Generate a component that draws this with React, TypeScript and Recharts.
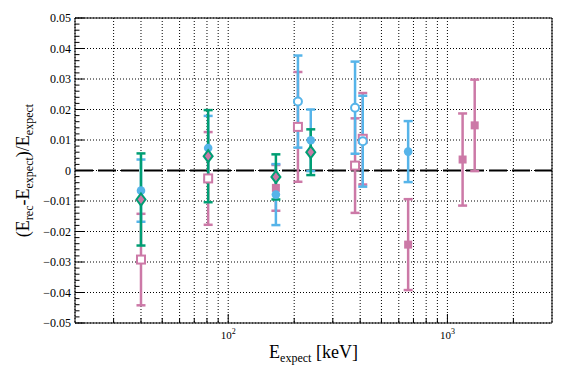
import React from 'react';
import { ScatterChart, Scatter, XAxis, YAxis, CartesianGrid, ErrorBar, ReferenceLine } from 'recharts';

const FONT = '"Liberation Serif", "DejaVu Serif", serif';
const BLUE = '#56B4E9';
const PINK = '#CC79A7';
const GREEN = '#009E73';

// Axis ticks
const xTicks = [30, 40, 50, 60, 70, 80, 90, 100, 200, 300, 400, 500, 600, 700, 800, 900, 1000, 2000];
const xMajorTicks = [100, 1000];
const xMajorExp = ['2', '3'];
const yMajorTicks = [-0.05, -0.04, -0.03, -0.02, -0.01, 0, 0.01, 0.02, 0.03, 0.04, 0.05];
const yMajorLabels = ['\u22120.05', '\u22120.04', '\u22120.03', '\u22120.02', '\u22120.01', '0', '0.01', '0.02', '0.03', '0.04', '0.05'];
const yAllTicks: number[] = [];
yMajorTicks.forEach((t, i) => {
  if (i < yMajorTicks.length - 1) {
    const step = (yMajorTicks[i + 1] - t) / 5;
    for (let k = 0; k < 5; k++) yAllTicks.push(+(t + k * step).toFixed(4));
  } else yAllTicks.push(t);
});

// Series: blue filled circles
const blueFilledE = [40, 81, 165, 238, 662];
const blueFilledV = [-0.0066, 0.0074, -0.0079, 0.0099, 0.0062];
const blueFilledErr = [0.0102, 0.0105, 0.0100, 0.0101, 0.0100];
// blue open circles
const blueOpenE = [208, 379, 411];
const blueOpenV = [0.0226, 0.0206, 0.0096];
const blueOpenErr = [0.0151, 0.0151, 0.0149];
// pink open squares
const pinkOpenE = [40, 81, 208, 379, 411];
const pinkOpenV = [-0.0292, -0.0026, 0.0143, 0.0016, 0.0104];
const pinkOpenErr = [0.0150, 0.0152, 0.0180, 0.0155, 0.0150];
// pink filled squares
const pinkFilledE = [165, 662, 1173, 1332];
const pinkFilledV = [-0.0057, -0.0243, 0.0036, 0.0148];
const pinkFilledErr = [0.0075, 0.0149, 0.0151, 0.0150];
// green diamonds
const greenE = [40, 81, 165, 238];
const greenV = [-0.0095, 0.0047, -0.0021, 0.0060];
const greenErr = [0.0151, 0.0151, 0.0074, 0.0075];

const mk = (e: number[], v: number[], err: number[]) => e.map((x, i) => ({ x, y: v[i], err: err[i] }));

const blueFilled = mk(blueFilledE, blueFilledV, blueFilledErr);
const blueOpen = mk(blueOpenE, blueOpenV, blueOpenErr);
const pinkOpen = mk(pinkOpenE, pinkOpenV, pinkOpenErr);
const pinkFilled = mk(pinkFilledE, pinkFilledV, pinkFilledErr);
const green = mk(greenE, greenV, greenErr);

const openCircle = (c: string) => (p: any) => <circle cx={p.cx} cy={p.cy} r={4} fill="#fff" stroke={c} strokeWidth={2} />;
const filledCircle = (c: string) => (p: any) => <circle cx={p.cx} cy={p.cy} r={4.3} fill={c} />;
const openSquare = (c: string) => (p: any) => <rect x={p.cx - 4} y={p.cy - 4} width={8} height={8} fill="#fff" stroke={c} strokeWidth={2} />;
const filledSquare = (c: string) => (p: any) => <rect x={p.cx - 4} y={p.cy - 4} width={8} height={8} fill={c} />;
const diamondShape = (p: any) => (
  <polygon
    points={`${p.cx},${p.cy - 6} ${p.cx + 4.5},${p.cy} ${p.cx},${p.cy + 6} ${p.cx - 4.5},${p.cy}`}
    fill={PINK}
    stroke={GREEN}
    strokeWidth={2}
  />
);

const XTick = (props: any) => {
  const { x, y, payload } = props;
  const v = payload.value;
  const mi = xMajorTicks.indexOf(v);
  const len = mi >= 0 ? 9 : 5;
  return (
    <g>
      <line x1={x} y1={y} x2={x} y2={y - len} stroke="#000" strokeWidth={1} />
      {mi >= 0 && (
        <text x={x} y={y + 16} textAnchor="middle" fontFamily={FONT} fontSize={11} fill="#000">
          10<tspan dy={-5} fontSize={8}>{xMajorExp[mi]}</tspan>
        </text>
      )}
    </g>
  );
};

const YTick = (props: any) => {
  const { x, y, payload } = props;
  const v = payload.value;
  const mi = yMajorTicks.findIndex((t) => Math.abs(t - v) < 1e-7);
  const len = mi >= 0 ? 9 : 4.5;
  return (
    <g>
      <line x1={x} y1={y} x2={x + len} y2={y} stroke="#000" strokeWidth={1} />
      {mi >= 0 && (
        <text x={x - 4} y={y + 4} textAnchor="end" fontFamily={FONT} fontSize={12} fill="#000">
          {yMajorLabels[mi]}
        </text>
      )}
    </g>
  );
};

const XTitle = (props: any) => {
  const vb = props.viewBox || { x: 75, y: 323, width: 477, height: 48 };
  const cx = vb.x + vb.width / 2;
  return (
    <text x={cx} y={vb.y + 35} textAnchor="middle" fontFamily={FONT} fontSize={18} fill="#000">
      E<tspan dy={4} fontSize={12}>expect</tspan><tspan dy={-4}> [keV]</tspan>
    </text>
  );
};

const YTitle = (props: any) => {
  const vb = props.viewBox || { x: 0, y: 18, width: 75, height: 305 };
  const cy = vb.y + vb.height / 2;
  const bx = vb.x + 29;
  return (
    <text x={bx} y={cy} transform={`rotate(-90, ${bx}, ${cy})`} textAnchor="middle" fontFamily={FONT} fontSize={18} fill="#000">
      (E<tspan dy={4} fontSize={12}>rec</tspan>
      <tspan dy={-4}>-E</tspan><tspan dy={4} fontSize={12}>expect</tspan>
      <tspan dy={-4}>)/E</tspan><tspan dy={4} fontSize={12}>expect</tspan>
    </text>
  );
};

export default function App() {
  return (
    <div style={{ position: 'absolute', left: 0, top: 0, width: 581, height: 371, background: '#fff' }}>
      <ScatterChart width={581} height={371} margin={{ top: 18, right: 29, left: 0, bottom: 0 }}>
        <CartesianGrid stroke="#000" strokeDasharray="1 2" horizontalValues={yMajorTicks} />
        <XAxis
          type="number"
          dataKey="x"
          scale="log"
          domain={[20, 3000]}
          allowDataOverflow
          ticks={xTicks}
          interval={0}
          tick={<XTick />}
          tickLine={false}
          tickSize={0}
          tickMargin={0}
          height={48}
          axisLine={{ stroke: '#000' }}
          label={<XTitle />}
        />
        <YAxis
          type="number"
          dataKey="y"
          domain={[-0.05, 0.05]}
          allowDataOverflow
          ticks={yAllTicks}
          interval={0}
          tick={<YTick />}
          tickLine={false}
          tickSize={0}
          tickMargin={0}
          width={75}
          axisLine={{ stroke: '#000' }}
          label={<YTitle />}
        />
        <ReferenceLine y={0.05} stroke="#000" strokeWidth={1} />
        <ReferenceLine x={3000} stroke="#000" strokeWidth={1} />
        <ReferenceLine y={0} stroke="#000" strokeWidth={2} strokeDasharray="18 5" />
        <Scatter data={pinkOpen} shape={openSquare(PINK)} isAnimationActive={false}>
          <ErrorBar dataKey="err" direction="y" width={4.5} stroke={PINK} strokeWidth={2.5} />
        </Scatter>
        <Scatter data={pinkFilled} shape={filledSquare(PINK)} isAnimationActive={false}>
          <ErrorBar dataKey="err" direction="y" width={4.5} stroke={PINK} strokeWidth={2.5} />
        </Scatter>
        <Scatter data={blueFilled} shape={filledCircle(BLUE)} isAnimationActive={false}>
          <ErrorBar dataKey="err" direction="y" width={4.5} stroke={BLUE} strokeWidth={2.5} />
        </Scatter>
        <Scatter data={blueOpen} shape={openCircle(BLUE)} isAnimationActive={false}>
          <ErrorBar dataKey="err" direction="y" width={4.5} stroke={BLUE} strokeWidth={2.5} />
        </Scatter>
        <Scatter data={green} shape={diamondShape} isAnimationActive={false}>
          <ErrorBar dataKey="err" direction="y" width={4.5} stroke={GREEN} strokeWidth={2.5} />
        </Scatter>
      </ScatterChart>
    </div>
  );
}
